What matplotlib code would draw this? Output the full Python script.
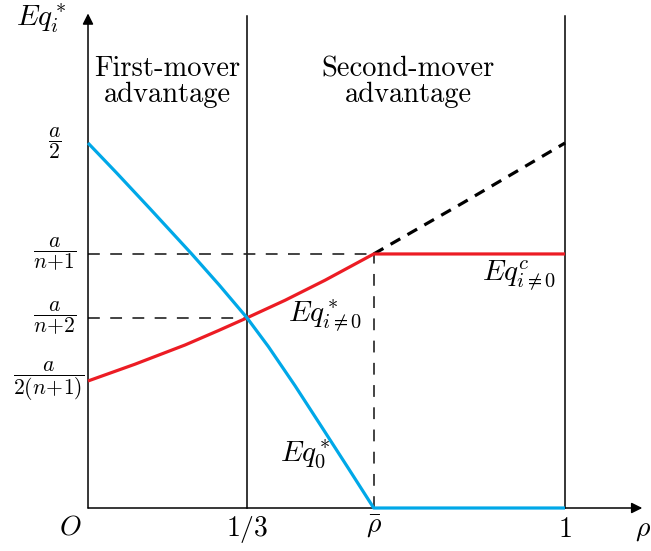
import numpy as np
import matplotlib
matplotlib.use('Agg')
import matplotlib.pyplot as plt

plt.rcParams['mathtext.fontset'] = 'cm'
plt.rcParams['font.family'] = 'cmr10'
plt.rcParams['axes.formatter.use_mathtext'] = True
plt.rcParams['lines.scale_dashes'] = False

# key values (a/2 normalised to 1)
q_half = 1.0          # a/2
q_n1 = 0.696          # a/(n+1)
q_n2 = 0.521          # a/(n+2)
q_2n1 = 0.348         # a/(2(n+1))
rho_third = 1. / 3.
rho_bar = 0.599

# leader's output Eq_0^*
rho_0 = [0.0, 0.06, 0.13, 0.2174, 0.275, rho_third, 0.378, 0.434,
         0.490, 0.5457, rho_bar, 1.0]
q_0 = [q_half, 0.918, 0.820, q_n1, 0.611, q_n2, 0.4425, 0.335,
       0.222, 0.109, 0.0, 0.0]

# followers' output Eq_{i!=0}^*
rho_i = [0.0, 0.0985, 0.2034, 0.2732, rho_third, 0.413, 0.4969, rho_bar, 1.0]
q_i = [q_2n1, 0.394, 0.4466, 0.486, q_n2, 0.569, 0.624, q_n1, q_n1]

# unconstrained continuation beyond rho_bar
rho_u = [rho_bar, 0.786, 1.0]
q_u = [q_n1, 0.836, q_half]

blue = '#00a8e8'
red = '#ec1c24'

fig = plt.figure(figsize=(6.51, 5.51), dpi=100)
ax = fig.add_axes([0, 0, 1, 1])
ax.set_xlim(-0.1845, 1.1803)
ax.set_ylim(-0.1178, 1.3918)
ax.axis('off')

# axes with arrow heads
ax.annotate('', xy=(1.162, 0), xytext=(0, 0),
            arrowprops=dict(arrowstyle='-|>', color='k', lw=1.1,
                            mutation_scale=16, shrinkA=0, shrinkB=0))
ax.annotate('', xy=(0, 1.355), xytext=(0, 0),
            arrowprops=dict(arrowstyle='-|>', color='k', lw=1.1,
                            mutation_scale=16, shrinkA=0, shrinkB=0))

# region boundaries
ax.plot([rho_third, rho_third], [0, 1.348], color='k', lw=1.1)
ax.plot([1, 1], [0, 1.348], color='k', lw=1.1)
ax.plot([rho_bar, rho_bar], [0, q_n1], color='#222222', lw=1.2,
        ls=(0, (8.5, 7.5)))
ax.plot([0, rho_bar], [q_n1, q_n1], color='#222222', lw=1.2,
        ls=(0, (8.5, 7.5)))
ax.plot([0, rho_third], [q_n2, q_n2], color='#222222', lw=1.2,
        ls=(0, (8.5, 7.5)))

# curves
ax.plot(rho_u, q_u, color='k', lw=2.3, ls=(0, (8, 6)), zorder=3)
ax.plot(rho_i, q_i, color=red, lw=2.3, zorder=4, solid_capstyle='butt',
        solid_joinstyle='round')
ax.plot(rho_0, q_0, color=blue, lw=2.3, zorder=5, solid_capstyle='butt',
        solid_joinstyle='round')

# region labels
ax.text(0.1656, 1.167, 'First-mover\nadvantage', ha='center', va='center',
        fontsize=20.5, linespacing=1.0)
ax.text(0.671, 1.167, 'Second-mover\nadvantage', ha='center', va='center',
        fontsize=20.5, linespacing=1.0)

# curve labels
ax.text(0.4193, 0.526, r'$Eq^*_{i\neq 0}$', ha='left', va='center', fontsize=21)
ax.text(0.826, 0.638, r'$Eq^c_{i\neq 0}$', ha='left', va='center', fontsize=21)
ax.text(0.4025, 0.145, r'$Eq^*_0$', ha='left', va='center', fontsize=21)

# axis labels
ax.text(-0.098, 1.34, r'$Eq^*_i$', ha='center', va='center', fontsize=21)
ax.text(1.163, -0.06, r'$\rho$', ha='center', va='center', fontsize=20)

# x tick labels
ax.text(-0.0377, -0.052, r'$O$', ha='center', va='center', fontsize=20)
ax.text(rho_third, -0.06, r'$1/3$', ha='center', va='center', fontsize=20)
ax.text(rho_bar, -0.052, r'$\bar{\rho}$', ha='center', va='center', fontsize=20)
ax.text(1.0, -0.06, r'$1$', ha='center', va='center', fontsize=20)

# y tick labels
ax.text(-0.069, q_half, r'$\dfrac{a}{2}$', ha='center', va='center', fontsize=15.5)
ax.text(-0.069, q_n1, r'$\dfrac{a}{n\!+\!1}$', ha='center', va='center', fontsize=15.5)
ax.text(-0.069, q_n2, r'$\dfrac{a}{n\!+\!2}$', ha='center', va='center', fontsize=15.5)
ax.text(-0.083, q_2n1, r'$\dfrac{a}{2(n\!+\!1)}$', ha='center', va='center', fontsize=15.5)

fig.savefig('out.png', dpi=100)
